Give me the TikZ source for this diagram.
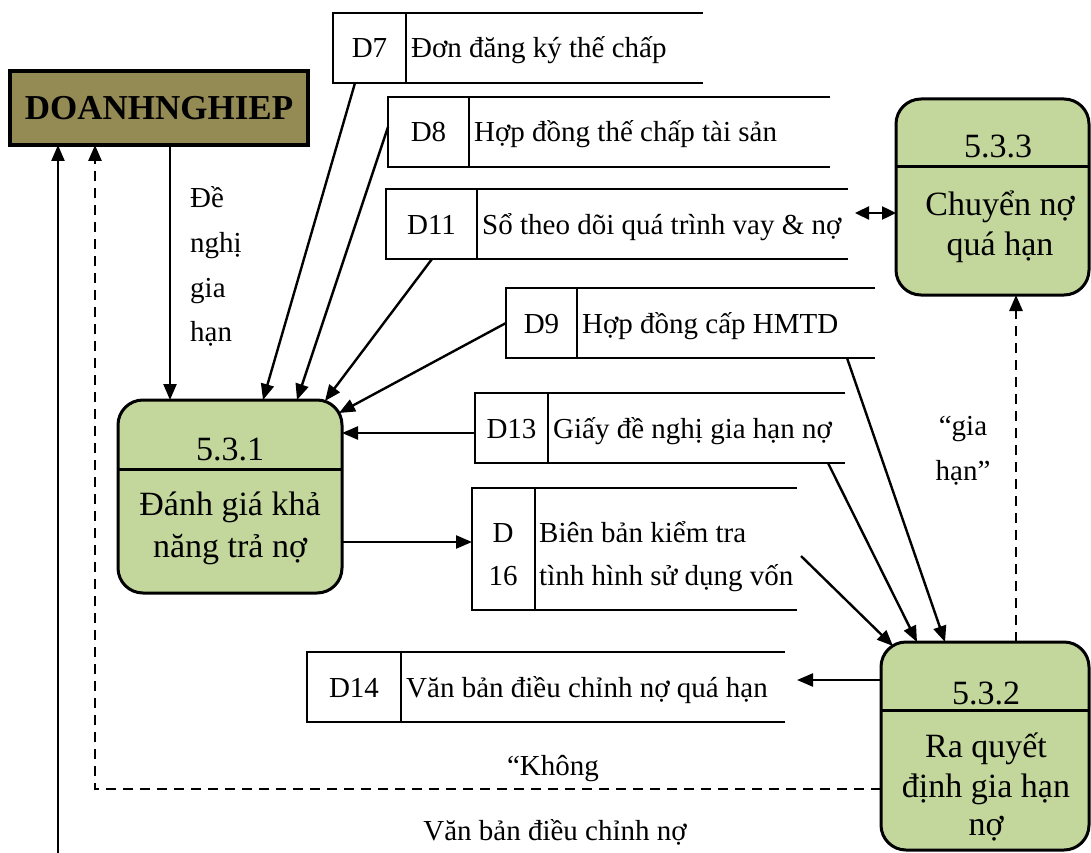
\documentclass[tikz,border=0pt]{standalone}
\usepackage{fontspec}
\setmainfont{Liberation Serif}
\usetikzlibrary{arrows.meta,calc}
\definecolor{olivefill}{RGB}{148,138,84}
\definecolor{procfill}{RGB}{195,214,155}

\tikzset{
  storeline/.style={line width=1.8pt},
  flow/.style={line width=2.4pt, -{Triangle[length=16pt,width=13pt]}},
  dflow/.style={flow, line width=2.8pt, dash pattern=on 10pt off 7pt},
  bflow/.style={line width=2.4pt, {Triangle[length=14pt,width=13pt]}-{Triangle[length=14pt,width=13pt]}},
  procbox/.style={draw, line width=3pt, fill=procfill, rounded corners=25pt,
    inner sep=0pt, outer sep=0pt, anchor=north west},
  divider/.style={line width=3pt},
  txt/.style={font=\fontsize{29}{30}\selectfont, inner sep=0pt},
  ptxt/.style={font=\fontsize{34}{36}\selectfont, inner sep=0pt, anchor=base},
}

% open-ended data store: name, left x, divider x, right x, top y, bottom y, id, title
\newcommand\dstore[8]{%
  \node[minimum width={(#4-#2)*1pt}, minimum height={(#6-#5)*1pt},
        inner sep=0pt, outer sep=0pt, anchor=north west] (#1) at (#2,#5) {};
  \draw[storeline] (#1.north east) -- (#1.north west) -- (#1.south west) -- (#1.south east);
  \draw[storeline] ($(#1.north west)+(#3-#2,0)$) -- ($(#1.south west)+(#3-#2,0)$);
  \node[txt, anchor=base] (#1-id) at ({(#2+#3)/2},{(#5+#6)/2+10}) {#7};
  \node[txt, anchor=base west] (#1-txt) at ({#3+5},{(#5+#6)/2+10}) {#8};
}

\begin{document}
\begin{tikzpicture}[x=1pt, y=-1pt]
\useasboundingbox (0,0) rectangle (1091,853);

% external entity
\node[draw, line width=3.4pt, fill=olivefill, minimum width=298pt, minimum height=74pt,
      inner sep=0pt, outer sep=0pt, anchor=north west,
      font=\fontsize{35}{36}\selectfont\bfseries] (dn) at (10,71) {DOANHNGHIEP};

% processes
\node[procbox, minimum width=224pt, minimum height=193pt] (p531) at (118,400) {};
\draw[divider] ($(p531.north west)+(0,69)$) -- ($(p531.north east)+(0,69)$);
\node[ptxt] (p531-id) at (230,460) {5.3.1};
\node[ptxt] (p531-l1) at (230,515) {Đánh giá khả};
\node[ptxt] (p531-l2) at (230,557) {năng trả nợ};

\node[procbox, minimum width=193pt, minimum height=196pt] (p533) at (896,99) {};
\draw[divider] ($(p533.north west)+(0,68)$) -- ($(p533.north east)+(0,68)$);
\node[ptxt] (p533-id) at (998,158) {5.3.3};
\node[ptxt] (p533-l1) at (1000,215) {Chuyển nợ};
\node[ptxt] (p533-l2) at (1000,255) {quá hạn};

\node[procbox, minimum width=208pt, minimum height=208pt] (p532) at (881,642) {};
\draw[divider] ($(p532.north west)+(0,68)$) -- ($(p532.north east)+(0,68)$);
\node[ptxt] (p532-id) at (986,704) {5.3.2};
\node[ptxt] (p532-l1) at (986,757) {Ra quyết};
\node[ptxt] (p532-l2) at (986,797) {định gia hạn};
\node[ptxt] (p532-l3) at (986,835) {nợ};

% data stores
\dstore{d7}{333}{406}{703}{13}{83}{D7}{Đơn đăng ký thế chấp}
\dstore{d8}{388}{469}{830}{97}{167}{D8}{Hợp đồng thế chấp tài sản}
\dstore{d11}{386}{477}{848}{189}{259}{D11}{Sổ theo dõi quá trình vay \& nợ}
\dstore{d9}{506}{577}{875}{288}{358}{D9}{Hợp đồng cấp HMTD}
\dstore{d13}{475}{548}{845}{393}{463}{D13}{Giấy đề nghị gia hạn nợ}
\dstore{d16}{472}{535}{797}{488}{610}{}{}
\node[txt, anchor=base] (d16-id1) at (503,542) {D};
\node[txt, anchor=base] (d16-id2) at (503,585) {16};
\node[txt, anchor=base west] (d16-t1) at (539,542) {Biên bản kiểm tra};
\node[txt, anchor=base west] (d16-t2) at (539,585) {tình hình sử dụng vốn};
\dstore{d14}{307}{401}{785}{652}{722}{D14}{Văn bản điều chỉnh nợ quá hạn}

% flows into 5.3.1
\coordinate (c1) at ($(dn.south west)+(160,0)$);
\draw[flow] (c1) -- (c1 |- p531.north);
\draw[flow] ($(d7.south west)+(22,0)$) -- ($(p531.north west)+(145,0)$);
\draw[flow] ($(d8.north west)+(0,30)$) -- ($(p531.north west)+(179,0)$);
\draw[flow] ($(d11.south west)+(46,0)$) -- ($(p531.north west)+(207,1)$);
\draw[flow] (d9.west) -- ($(p531.north east)+(-3,13)$);
\coordinate (c13) at ($(d13.west)+(0,5)$);
\draw[flow] (c13) -- (c13 -| p531.east);

% 5.3.1 to D16
\coordinate (c16) at ($(d16.west)+(0,-7)$);
\draw[flow] (c16 -| p531.east) -- (c16);

% flows into 5.3.2
\draw[flow] ($(d16.north east)+(4,68)$) -- ($(p532.north west)+(12,4)$);
\draw[flow] ($(d13.south east)+(-17,0)$) -- ($(p532.north west)+(36,0)$);
\draw[flow] ($(d9.south east)+(-28,0)$) -- ($(p532.north west)+(64,0)$);

% 5.3.2 to 5.3.3
\coordinate (c2) at ($(p532.north west)+(135,0)$);
\draw[dflow] (c2) -- (c2 |- p533.south);

% D11 <-> 5.3.3
\coordinate (c3) at ($(d11.east)+(7,-11)$);
\draw[bflow] (c3) -- (c3 -| p533.west);

% 5.3.2 to D14
\coordinate (c4) at ($(p532.north west)+(0,38)$);
\coordinate (c5) at ($(d14.east)+(12,-7)$);
\draw[flow] (c4) -- (c5);

% back to the entity
\coordinate (c6) at ($(p532.north west)+(0,147)$);
\draw[dflow] (c6) -| ($(dn.south west)+(85,0)$);
\coordinate (c7) at (58,853);
\draw[flow] (c7) -- (c7 |- dn.south);

% flow labels
\node[txt, anchor=base west] (lb1) at (190,207) {Đề};
\node[txt, anchor=base west] (lb2) at (190,252) {nghị};
\node[txt, anchor=base west] (lb3) at (190,297) {gia};
\node[txt, anchor=base west] (lb4) at (190,341) {hạn};
\node[txt, anchor=base] (lg1) at (963,435) {“gia};
\node[txt, anchor=base] (lg2) at (963,480) {hạn”};
\node[txt, anchor=base] (lk) at (553,775) {“Không};
\node[txt, anchor=base] (lv) at (555,840) {Văn bản điều chỉnh nợ};

\end{tikzpicture}
\end{document}
